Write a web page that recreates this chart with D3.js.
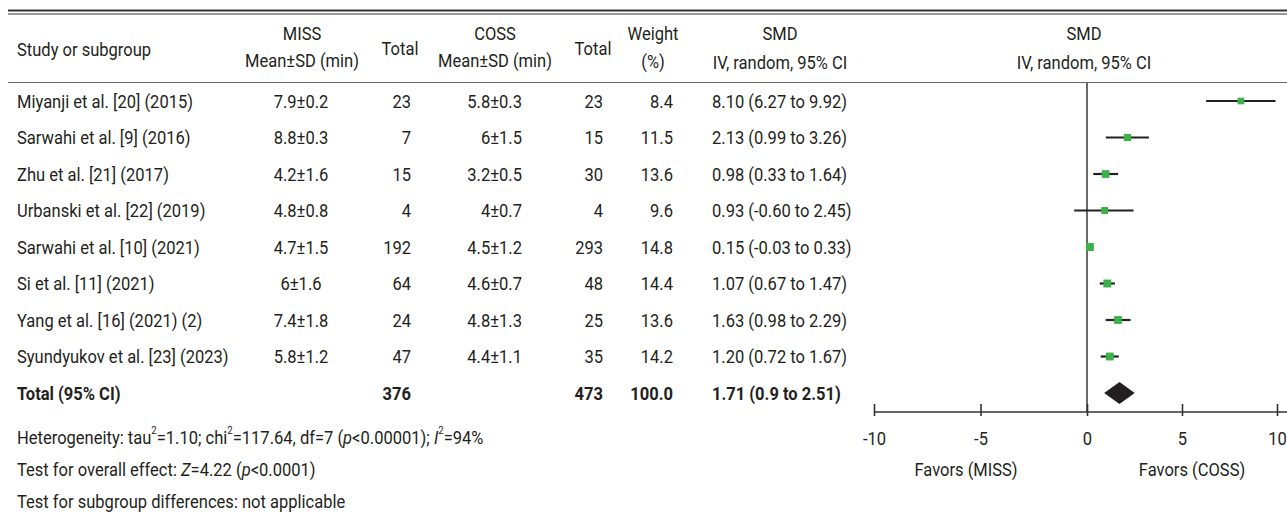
<!DOCTYPE html>
<html>
<head>
<meta charset="utf-8">
<script src="https://cdn.jsdelivr.net/npm/d3@7"></script>
<style>
  html, body { margin: 0; padding: 0; background: #fff; }
  svg text { font-family: "Roboto", "Liberation Sans", sans-serif; fill: #231f20; }
</style>
</head>
<body>
<svg id="chart" width="1287" height="515"></svg>
<script>
// ---------- data ----------
const studies = ["Miyanji et al. [20] (2015)", "Sarwahi et al. [9] (2016)", "Zhu et al. [21] (2017)",
  "Urbanski et al. [22] (2019)", "Sarwahi et al. [10] (2021)", "Si et al. [11] (2021)",
  "Yang et al. [16] (2021) (2)", "Syundyukov et al. [23] (2023)"];
const missMeanSD = ["7.9±0.2", "8.8±0.3", "4.2±1.6", "4.8±0.8", "4.7±1.5", "6±1.6", "7.4±1.8", "5.8±1.2"];
const missTotal = [23, 7, 15, 4, 192, 64, 24, 47];
const cossMeanSD = ["5.8±0.3", "6±1.5", "3.2±0.5", "4±0.7", "4.5±1.2", "4.6±0.7", "4.8±1.3", "4.4±1.1"];
const cossTotal = [23, 15, 30, 4, 293, 48, 25, 35];
const weights = [8.4, 11.5, 13.6, 9.6, 14.8, 14.4, 13.6, 14.2];
const smd = [8.10, 2.13, 0.98, 0.93, 0.15, 1.07, 1.63, 1.20];
const ciLow = [6.27, 0.99, 0.33, -0.60, -0.03, 0.67, 0.98, 0.72];
const ciHigh = [9.92, 3.26, 1.64, 2.45, 0.33, 1.47, 2.29, 1.67];
const smdText = ["8.10 (6.27 to 9.92)", "2.13 (0.99 to 3.26)", "0.98 (0.33 to 1.64)", "0.93 (-0.60 to 2.45)",
  "0.15 (-0.03 to 0.33)", "1.07 (0.67 to 1.47)", "1.63 (0.98 to 2.29)", "1.20 (0.72 to 1.67)"];
const totalLabel = "Total (95% CI)";
const totalMiss = 376, totalCoss = 473, totalWeight = "100.0", totalText = "1.71 (0.9 to 2.51)";
const pooled = { est: 1.71, lo: 0.9, hi: 2.51 };
const axisTicks = [-10, -5, 0, 5, 10];
const favorsLabels = ["Favors (MISS)", "Favors (COSS)"];

// ---------- layout ----------
const svg = d3.select("#chart");
const W = 1287;
const fs = 19;
const SX = 0.87;   // condensed look
const rowCount = studies.length + 1;
const y = d3.scalePoint().domain(d3.range(rowCount)).range([101, 393]);
const x = d3.scaleLinear().domain([-10, 0, 10]).range([874, 1087, 1277]);

const col = { study: 17, missMean: 301, missTot: 411, cossMean: 522, cossTot: 603, weight: 673, smd: 712 };

function txt(g, str, xx, yy, anchor) {
  return g.append("text")
    .attr("transform", `translate(${xx},${yy}) scale(${SX},1)`)
    .attr("text-anchor", anchor || "start")
    .attr("dominant-baseline", "central")
    .text(str);
}

// top double rule and header rule
svg.append("line").attr("x1", 8).attr("x2", W).attr("y1", 10.5).attr("y2", 10.5).attr("stroke", "#333").attr("stroke-width", 2.2);
svg.append("line").attr("x1", 8).attr("x2", W).attr("y1", 14).attr("y2", 14).attr("stroke", "#333").attr("stroke-width", 1);
svg.append("line").attr("x1", 8).attr("x2", W).attr("y1", 82.5).attr("y2", 82.5).attr("stroke", "#666").attr("stroke-width", 1.2);

// headers
const hdr = svg.append("g").attr("font-size", fs);
txt(hdr, "Study or subgroup", col.study, 49, "start");
txt(hdr, "MISS", 302, 33, "middle"); txt(hdr, "Mean±SD (min)", 302, 60, "middle");
txt(hdr, "Total", 400, 48, "middle");
txt(hdr, "COSS", 495, 33, "middle"); txt(hdr, "Mean±SD (min)", 495, 60, "middle");
txt(hdr, "Total", 593, 48, "middle");
txt(hdr, "Weight", 653, 33, "middle"); txt(hdr, "(%)", 653, 61, "middle");
txt(hdr, "SMD", 780, 33, "middle"); txt(hdr, "IV, random, 95% CI", 780, 62, "middle");
txt(hdr, "SMD", 1084, 33, "middle"); txt(hdr, "IV, random, 95% CI", 1084, 62, "middle");

// rows
const rows = svg.append("g").attr("font-size", fs);
studies.forEach((s, i) => {
  const yy = y(i);
  txt(rows, s, col.study, yy, "start");
  txt(rows, missMeanSD[i], col.missMean, yy, "middle");
  txt(rows, missTotal[i], col.missTot, yy, "end");
  txt(rows, cossMeanSD[i], col.cossMean, yy, "end");
  txt(rows, cossTotal[i], col.cossTot, yy, "end");
  txt(rows, weights[i].toFixed(1), col.weight, yy, "end");
  txt(rows, smdText[i], col.smd, yy, "start");
});
// total row
{
  const yy = y(studies.length);
  const g = rows.append("g").attr("font-weight", "bold");
  txt(g, totalLabel, col.study, yy, "start");
  txt(g, totalMiss, col.missTot, yy, "end");
  txt(g, totalCoss, col.cossTot, yy, "end");
  txt(g, totalWeight, col.weight, yy, "end");
  txt(g, totalText, col.smd, yy, "start");
}

// footer
const foot = svg.append("g").attr("font-size", fs);
const f1 = txt(foot, "", col.study, 437, "start");
const sup = (t, s) => t.append("tspan").attr("baseline-shift", "super").attr("font-size", 11).text(s);
f1.append("tspan").text("Heterogeneity: tau");
sup(f1, "2");
f1.append("tspan").text("=1.10; chi");
sup(f1, "2");
f1.append("tspan").text("=117.64, df=7 (");
f1.append("tspan").attr("font-style", "italic").text("p");
f1.append("tspan").text("<0.00001); ");
f1.append("tspan").attr("font-style", "italic").text("I");
sup(f1, "2");
f1.append("tspan").text("=94%");
const f2 = txt(foot, "", col.study, 469, "start");
f2.append("tspan").text("Test for overall effect: ");
f2.append("tspan").attr("font-style", "italic").text("Z");
f2.append("tspan").text("=4.22 (");
f2.append("tspan").attr("font-style", "italic").text("p");
f2.append("tspan").text("<0.0001)");
txt(foot, "Test for subgroup differences: not applicable", col.study, 501, "start");

// plot
const plot = svg.append("g");
const axisY = 412;
plot.append("line").attr("x1", x(0)).attr("x2", x(0)).attr("y1", 83).attr("y2", axisY)
  .attr("stroke", "#444").attr("stroke-width", 1.6);
studies.forEach((s, i) => {
  plot.append("line").attr("x1", x(ciLow[i])).attr("x2", x(ciHigh[i])).attr("y1", y(i)).attr("y2", y(i))
    .attr("stroke", "#222").attr("stroke-width", 2.2);
  const sz = 5 + weights[i] * 0.2;
  plot.append("rect").attr("x", x(smd[i]) - sz / 2).attr("y", y(i) - sz / 2).attr("width", sz).attr("height", sz)
    .attr("fill", "#3cb04a");
});
const dy = y(studies.length);
plot.append("path")
  .attr("d", `M${x(pooled.lo)},${dy} L${x(pooled.est)},${dy - 11} L${x(pooled.hi)},${dy} L${x(pooled.est)},${dy + 11} Z`)
  .attr("fill", "#231f20");

// axis
const ax = plot.append("g").attr("transform", `translate(0,${axisY})`)
  .call(d3.axisBottom(x).tickValues(axisTicks).tickSize(0).tickPadding(0).tickFormat(d => String(d)));
ax.select(".domain").remove();
ax.append("line").attr("x1", x(-10)).attr("x2", W).attr("y1", 0).attr("y2", 0).attr("stroke", "#333").attr("stroke-width", 1.6);
ax.selectAll(".tick line").remove();
ax.selectAll(".tick").append("line").attr("y1", -8).attr("y2", 4).attr("stroke", "#333").attr("stroke-width", 1.6);
ax.selectAll(".tick text").attr("y", null).attr("dy", null)
  .attr("transform", `translate(0,26) scale(${SX},1)`).attr("dominant-baseline", "central")
  .attr("font-size", fs).attr("font-family", null).attr("fill", "#231f20");

const fav = plot.append("g").attr("font-size", fs);
txt(fav, favorsLabels[0], 966, 469, "middle");
txt(fav, favorsLabels[1], 1192, 469, "middle");
</script>
</body>
</html>
